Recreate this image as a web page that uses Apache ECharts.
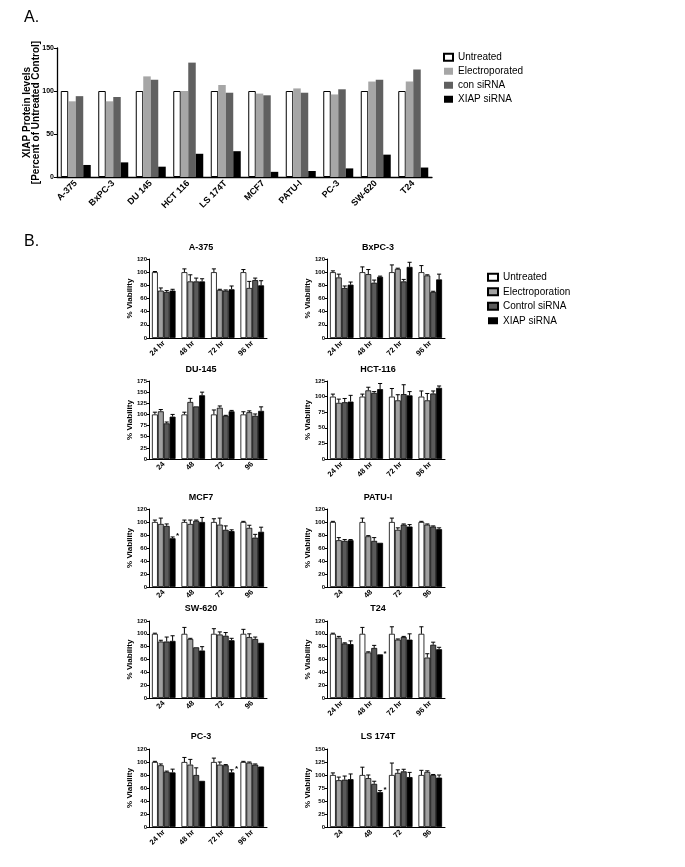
<!DOCTYPE html>
<html><head><meta charset="utf-8">
<script src="https://cdn.jsdelivr.net/npm/echarts@6/dist/echarts.min.js"></script>
<style>html,body{margin:0;padding:0;background:#fff}#c{width:685px;height:867px}</style>
</head><body><div id="c"></div>
<script>
const FONT = '"Liberation Sans", Arial, sans-serif';

// ---- Panel A data ----
const cellLines = ['A-375','BxPC-3','DU 145','HCT 116','LS 174T','MCF7','PATU-I','PC-3','SW-620','T24'];
const untreatedA = [100,100,100,100,100,100,100,100,100,100];
const electroA   = [88,88,117,100,107,97,103,96,111,111];
const conA       = [94,93,113,133,98,95,98,102,113,125];
const xiapA      = [14,17,12,27,30,6,7,10,26,11];
const legendA = ['Untreated','Electroporated','con siRNA','XIAP siRNA'];

// ---- Panel B data ----
const legendB = ['Untreated','Electroporation','Control siRNA','XIAP siRNA'];
const hrLabels = ['24 hr','48 hr','72 hr','96 hr'];
const numLabels = ['24','48','72','96'];
// rows: Untreated, Electroporation, Control siRNA, XIAP siRNA ; columns: 24, 48, 72, 96
const a375Mean = [[100,100,100,100],[72,86,73,76],[70,86,72,88],[72,86,74,80]];
const a375Err  = [[1,5,5,4],[4,10,1,10],[2,5,1,3],[2,4,5,7]];
const bxpcMean = [[100,100,100,100],[92,97,105,95],[76,84,86,70],[81,93,108,89]];
const bxpcErr  = [[2,8,11,10],[5,7,1,1],[3,4,3,1],[4,1,7,8]];
const du145Mean = [[100,100,100,100],[107,128,115,105],[80,118,97,97],[95,143,107,108]];
const du145Err  = [[5,5,10,6],[4,8,4,3],[3,0,1,4],[5,7,2,9]];
const hct116Mean = [[100,100,100,100],[90,110,94,94],[91,106,104,105],[92,112,102,114]];
const hct116Err  = [[4,4,13,9],[6,5,9,11],[6,2,15,4],[10,9,6,3]];
const mcf7Mean = [[100,100,100,100],[97,97,96,91],[94,102,88,76],[75,100,86,85]];
const mcf7Err  = [[3,3,5,1],[9,6,10,4],[3,1,6,5],[2,7,2,7]];
const patuMean = [[100,100,100,100],[72,78,88,96],[71,71,96,93],[72,68,93,89]];
const patuErr  = [[1,6,6,1],[4,1,3,1],[2,5,1,1],[1,0,3,2]];
const sw620Mean = [[100,100,100,100],[88,92,99,95],[88,79,97,92],[89,74,90,86]];
const sw620Err  = [[1,10,8,7],[2,1,4,5],[7,0,5,3],[8,6,3,0]];
const t24Mean = [[100,100,100,100],[94,71,91,63],[85,78,95,83],[84,68,91,76]];
const t24Err  = [[1,10,11,11],[2,1,1,6],[1,4,1,4],[5,0,9,3]];
const pc3Mean = [[100,100,100,100],[95,96,96,99],[85,80,95,96],[84,71,84,93]];
const pc3Err  = [[1,7,6,1],[2,8,4,1],[1,11,1,1],[5,0,4,0]];
const ls174Mean = [[100,100,100,100],[90,94,104,106],[91,83,107,100],[92,67,96,95]];
const ls174Err  = [[4,15,23,9],[6,6,6,2],[7,5,4,1],[10,3,9,5]];
// significance marks: [time index, series index]
const mcf7Stars = [[0,3]];
const t24Stars = [[1,3]];
const pc3Stars = [[2,3]];
const ls174Stars = [[1,3]];

const panels = [
  {name:'A-375',  mean:a375Mean,  err:a375Err,  labels:hrLabels,  max:120, step:20, stars:[], row:0, col:0},
  {name:'BxPC-3', mean:bxpcMean,  err:bxpcErr,  labels:hrLabels,  max:120, step:20, stars:[], row:0, col:1},
  {name:'DU-145', mean:du145Mean, err:du145Err, labels:numLabels, max:175, step:25, stars:[], row:1, col:0},
  {name:'HCT-116',mean:hct116Mean,err:hct116Err,labels:hrLabels,  max:125, step:25, stars:[], row:1, col:1},
  {name:'MCF7',   mean:mcf7Mean,  err:mcf7Err,  labels:numLabels, max:120, step:20, stars:mcf7Stars, row:2, col:0},
  {name:'PATU-I', mean:patuMean,  err:patuErr,  labels:numLabels, max:120, step:20, stars:[], row:2, col:1},
  {name:'SW-620', mean:sw620Mean, err:sw620Err, labels:numLabels, max:120, step:20, stars:[], row:3, col:0},
  {name:'T24',    mean:t24Mean,   err:t24Err,   labels:hrLabels,  max:120, step:20, stars:t24Stars, row:3, col:1},
  {name:'PC-3',   mean:pc3Mean,   err:pc3Err,   labels:hrLabels,  max:120, step:20, stars:pc3Stars, row:4, col:0},
  {name:'LS 174T',mean:ls174Mean, err:ls174Err, labels:numLabels, max:150, step:25, stars:ls174Stars, row:4, col:1}
];

// ---- layout ----
const rowTops = [259, 381, 509, 621, 749];
const rowHeights = [79, 78, 78, 77, 78];
const colLefts = [149, 327];
const plotW = 118;
const titleY = [248, 370, 498, 609, 737];
const titleX = [201, 378];
const colorsA = ['#ffffff','#a6a6a6','#606060','#000000'];
const colorsB = ['#ffffff','#a0a0a0','#5a5a5a','#000000'];

const grids = [], xAxes = [], yAxes = [], series = [], graphics = [];

// Panel A
grids.push({left:57, top:48, width:375, height:129});
xAxes.push({type:'category', gridIndex:0, data:cellLines,
  axisLine:{lineStyle:{color:'#000', width:1.3}}, axisTick:{show:false},
  axisLabel:{rotate:45, interval:0, fontSize:9, fontWeight:'bold', color:'#000', fontFamily:FONT, margin:5}});
yAxes.push({type:'value', gridIndex:0, min:0, max:150, interval:50,
  name:'XIAP Protein levels\n[Percent of Untreated Control]', nameLocation:'middle', nameGap:16,
  nameMoveOverlap:false,
  nameTextStyle:{fontSize:10, fontWeight:'bold', color:'#000', fontFamily:FONT, lineHeight:9},
  axisLine:{show:true, lineStyle:{color:'#000', width:1.3}}, axisTick:{show:true, length:3, lineStyle:{color:'#000'}},
  splitLine:{show:false},
  axisLabel:{fontSize:7, fontWeight:'bold', color:'#000', fontFamily:FONT, margin:3}});
[untreatedA, electroA, conA, xiapA].forEach((arr, i) => {
  series.push({type:'bar', name:legendA[i], xAxisIndex:0, yAxisIndex:0, data:arr,
    barGap:'0%', barCategoryGap:'20%',
    itemStyle:{color:colorsA[i], borderColor: i===0 ? '#000' : colorsA[i], borderWidth: i===0 ? 1 : 0}});
});

function errRender(params, api){
  const cat = api.value(0), val = api.value(1), err = api.value(2), si = api.value(3);
  if (!err) return null;
  const p0 = api.coord([cat, val]);
  const p1 = api.coord([cat, val + err]);
  const band = api.size([1, 0])[0];
  const bw = band * 0.8 / 4;
  const x = p0[0] + (si - 1.5) * bw;
  const cw = bw * 0.35;
  return {type:'group', children:[
    {type:'line', shape:{x1:x, y1:p0[1], x2:x, y2:p1[1]}, style:{stroke:'#000', lineWidth:1}},
    {type:'line', shape:{x1:x - cw, y1:p1[1], x2:x + cw, y2:p1[1]}, style:{stroke:'#000', lineWidth:1}}
  ]};
}
function starRender(params, api){
  const cat = api.value(0), top = api.value(1), si = api.value(2);
  const p = api.coord([cat, top]);
  const band = api.size([1, 0])[0];
  const bw = band * 0.8 / 4;
  const x = p[0] + (si - 1.5) * bw + bw / 2 + 0.5;
  return {type:'text', x:x, y:p[1] - 1,
    style:{text:'*', font:'bold 8px ' + FONT, fill:'#000', textAlign:'left', textVerticalAlign:'middle', align:'left', verticalAlign:'middle'}};
}

panels.forEach((pn, k) => {
  const gi = k + 1;
  grids.push({left:colLefts[pn.col], top:rowTops[pn.row], width:plotW, height:rowHeights[pn.row]});
  xAxes.push({type:'category', gridIndex:gi, data:pn.labels,
    axisLine:{lineStyle:{color:'#000', width:1}}, axisTick:{show:false},
    axisLabel:{rotate:45, interval:0, fontSize:7.5, fontWeight:'bold', color:'#000', fontFamily:FONT, margin:4}});
  yAxes.push({type:'value', gridIndex:gi, min:0, max:pn.max, interval:pn.step,
    name:'% Viability', nameLocation:'middle', nameGap:15, nameMoveOverlap:false,
    nameTextStyle:{fontSize:8, fontWeight:'bold', color:'#000', fontFamily:FONT},
    axisLine:{show:true, lineStyle:{color:'#000', width:1}}, axisTick:{show:true, length:2, lineStyle:{color:'#000'}},
    splitLine:{show:false},
    axisLabel:{fontSize:6, fontWeight:'bold', color:'#000', fontFamily:FONT, margin:2}});
  pn.mean.forEach((arr, i) => {
    series.push({type:'bar', name:legendB[i], xAxisIndex:gi, yAxisIndex:gi, data:arr,
      barGap:'0%', barCategoryGap:'20%',
      itemStyle:{color:colorsB[i], borderColor:'#000', borderWidth:0.8}});
  });
  const errData = [];
  pn.mean.forEach((arr, i) => arr.forEach((v, t) => errData.push([t, v, pn.err[i][t], i])));
  series.push({type:'custom', xAxisIndex:gi, yAxisIndex:gi, renderItem:errRender,
    encode:{x:0, y:1}, data:errData, z:5, silent:true});
  if (pn.stars.length) {
    const starData = pn.stars.map(s => [s[0], pn.mean[s[1]][s[0]] + pn.err[s[1]][s[0]], s[1]]);
    series.push({type:'custom', xAxisIndex:gi, yAxisIndex:gi, renderItem:starRender,
      encode:{x:0, y:1}, data:starData, z:6, silent:true});
  }
  graphics.push({type:'text', x:titleX[pn.col], y:titleY[pn.row],
    style:{text:pn.name, font:'bold 9px ' + FONT, fill:'#000', textAlign:'center', textVerticalAlign:'middle', align:'center', verticalAlign:'middle'}});
});

graphics.push({type:'text', x:24, y:18, style:{text:'A.', font:'16px ' + FONT, fill:'#000', textAlign:'left', textVerticalAlign:'middle', align:'left', verticalAlign:'middle'}});
graphics.push({type:'text', x:24, y:242, style:{text:'B.', font:'16px ' + FONT, fill:'#000', textAlign:'left', textVerticalAlign:'middle', align:'left', verticalAlign:'middle'}});

const chart = echarts.init(document.getElementById('c'), null, {renderer:'canvas'});
chart.setOption({
  animation:false,
  backgroundColor:'#fff',
  grid:grids, xAxis:xAxes, yAxis:yAxes, series:series, graphic:graphics,
  legend:[
    {data:legendA, orient:'vertical', left:438, top:47, itemWidth:9, itemHeight:7, itemGap:3.5,
      icon:'rect', selectedMode:false, textStyle:{fontSize:10, color:'#000', fontFamily:FONT, lineHeight:10.5}},
    {data:legendB, orient:'vertical', left:482, top:267, itemWidth:10, itemHeight:7, itemGap:4,
      icon:'rect', selectedMode:false, textStyle:{fontSize:10, color:'#000', fontFamily:FONT, lineHeight:10.5}}
  ]
});
</script></body></html>
